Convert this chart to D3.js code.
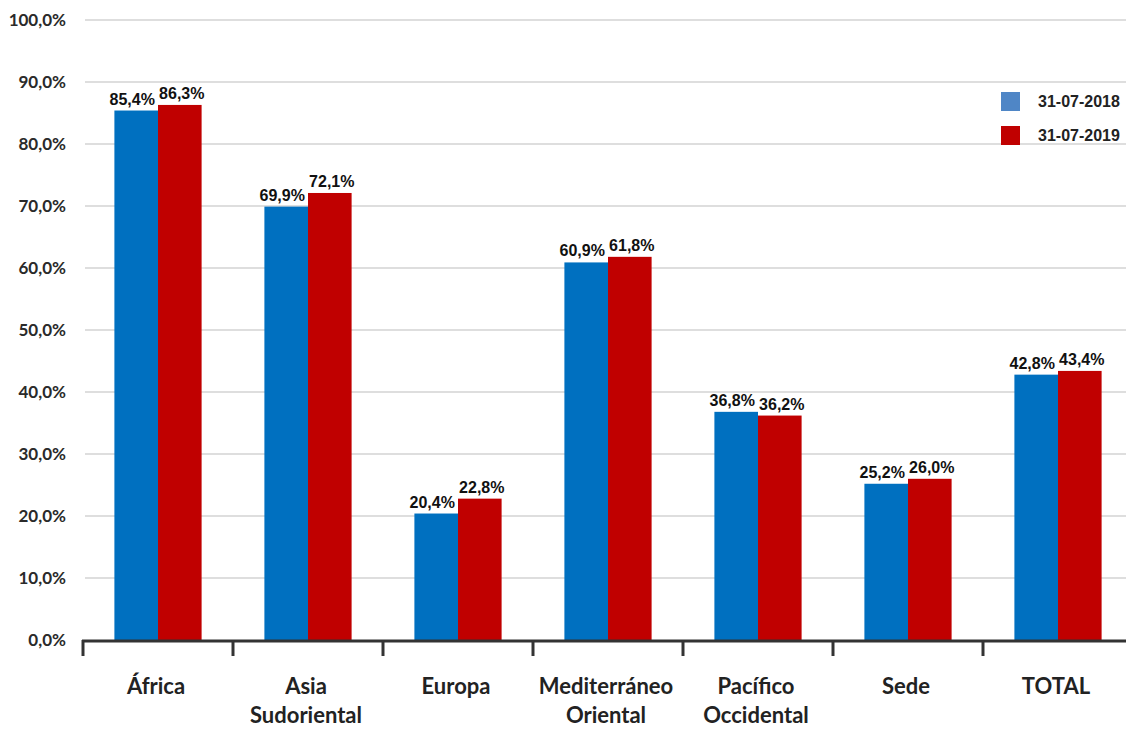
<!DOCTYPE html>
<html>
<head>
<meta charset="utf-8">
<script src="https://cdn.jsdelivr.net/npm/d3@7"></script>
<style>
  html, body { margin: 0; padding: 0; background: #fff; overflow: hidden; }
  svg { display: block; }
</style>
</head>
<body>
<svg id="chart" width="1126" height="729"></svg>
<script>
// Regions (two-line labels split by "\n")
const categories = ["África", "Asia\nSudoriental", "Europa", "Mediterráneo\nOriental", "Pacífico\nOccidental", "Sede", "TOTAL"];
const seriesNames = ["31-07-2018", "31-07-2019"];
const values2018 = [85.4, 69.9, 20.4, 60.9, 36.8, 25.2, 42.8];
const values2019 = [86.3, 72.1, 22.8, 61.8, 36.2, 26.0, 43.4];
const yTicks = [0, 10, 20, 30, 40, 50, 60, 70, 80, 90, 100];

const seriesColors = ["#0070C0", "#C00000"];
const legendColors = ["#4F86C6", "#C00000"];

const svg = d3.select("#chart");
const W = 1126, H = 729;
const axisY = 640;

const y = d3.scaleLinear().domain([0, 100]).range([axisY, 20]);
const x0 = d3.scaleBand().domain(categories).range([83, 1133]).paddingInner(0).paddingOuter(0);
const x1 = d3.scaleBand().domain(seriesNames).range([0, x0.bandwidth()]).paddingInner(0).paddingOuter(0.72);

const fmt = v => v.toFixed(1).replace(".", ",") + "%";

// Gridlines
svg.append("g")
  .selectAll("line")
  .data(yTicks.filter(d => d > 0))
  .join("line")
  .attr("x1", 85).attr("x2", W)
  .attr("y1", d => y(d)).attr("y2", d => y(d))
  .attr("stroke", "#dedede").attr("stroke-width", 2);

// Y axis labels
const yAxis = svg.append("g")
  .attr("transform", "translate(66,0)")
  .call(d3.axisLeft(y).tickValues(yTicks).tickSize(0).tickPadding(0).tickFormat(fmt));
yAxis.select(".domain").remove();
yAxis.selectAll("text")
  .attr("font-family", "Lato, 'Open Sans', sans-serif")
  .attr("font-weight", "bold")
  .attr("font-size", "17px")
  .attr("fill", "#2a2a2a");

// Bars
const rows = categories.map((c, i) => ({ cat: c, vals: [values2018[i], values2019[i]] }));
const groups = svg.append("g")
  .selectAll("g")
  .data(rows)
  .join("g")
  .attr("transform", d => `translate(${x0(d.cat)},0)`);

groups.selectAll("rect")
  .data(d => d.vals.map((v, j) => ({ s: seriesNames[j], v, j })))
  .join("rect")
  .attr("x", d => x1(d.s))
  .attr("width", x1.bandwidth())
  .attr("y", d => y(d.v))
  .attr("height", d => axisY - y(d.v))
  .attr("fill", d => seriesColors[d.j]);

// Value labels
groups.selectAll("text.val")
  .data(d => d.vals.map((v, j) => ({ s: seriesNames[j], v, j })))
  .join("text")
  .attr("class", "val")
  .attr("x", d => x1(d.s) + x1.bandwidth() / 2 + (d.j === 0 ? -4 : 2))
  .attr("y", d => y(d.v) - 6)
  .attr("text-anchor", "middle")
  .attr("font-family", "Liberation Sans, Arial, sans-serif")
  .attr("font-weight", "bold")
  .attr("font-size", "16px")
  .attr("fill", "#111")
  .text(d => fmt(d.v));

// X axis line and boundary ticks
const xAxisG = svg.append("g");
xAxisG.append("line")
  .attr("x1", 82).attr("x2", W)
  .attr("y1", axisY + 1).attr("y2", axisY + 1)
  .attr("stroke", "#333").attr("stroke-width", 3);
xAxisG.selectAll("line.tick")
  .data(categories)
  .join("line")
  .attr("class", "tick")
  .attr("x1", d => x0(d)).attr("x2", d => x0(d))
  .attr("y1", axisY).attr("y2", axisY + 16)
  .attr("stroke", "#333").attr("stroke-width", 3);

// Category labels
const catLabels = xAxisG.selectAll("text.cat")
  .data(categories)
  .join("text")
  .attr("class", "cat")
  .attr("x", d => x0(d) + x0.bandwidth() / 2 - 2)
  .attr("y", 694)
  .attr("text-anchor", "middle")
  .attr("font-family", "Lato, 'Open Sans', sans-serif")
  .attr("font-weight", "bold")
  .attr("font-size", "22px")
  .attr("fill", "#222");
catLabels.selectAll("tspan")
  .data(d => d.split("\n").map((t, i) => ({ t, i, x: x0(d) + x0.bandwidth() / 2 - 2 })))
  .join("tspan")
  .attr("x", d => d.x)
  .attr("dy", d => d.i === 0 ? 0 : 29)
  .text(d => d.t);

// Legend
const legend = svg.append("g");
seriesNames.forEach((s, i) => {
  const ly = 92 + i * 34;
  legend.append("rect")
    .attr("x", 1001).attr("y", ly)
    .attr("width", 19).attr("height", 19)
    .attr("fill", legendColors[i]);
  legend.append("text")
    .attr("x", 1038).attr("y", ly + 15)
    .attr("font-family", "Liberation Sans, Arial, sans-serif")
    .attr("font-weight", "bold")
    .attr("font-size", "16px")
    .attr("fill", "#222")
    .text(s);
});
</script>
</body>
</html>
